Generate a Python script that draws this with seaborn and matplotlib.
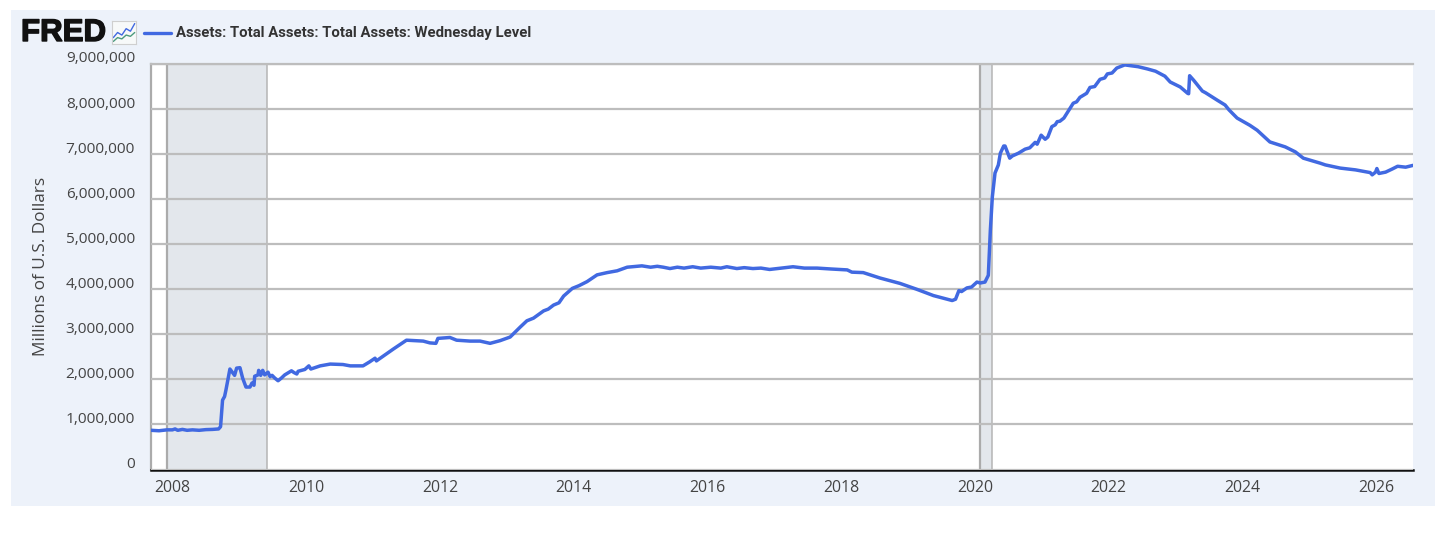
import numpy as np
import pandas as pd
import matplotlib
matplotlib.use('Agg')
import matplotlib.pyplot as plt
import matplotlib.patheffects as pe
import matplotlib.transforms as mtrans
import seaborn as sns

# Values (year as decimal, assets in trillions of dollars)
years = [2007.68, 2007.80, 2007.92, 2008.00, 2008.04, 2008.08, 2008.15, 2008.22, 2008.30, 2008.40, 2008.50, 2008.60, 2008.69,
         2008.72, 2008.75, 2008.78, 2008.80, 2008.86, 2008.93, 2008.96, 2009.01, 2009.05, 2009.10, 2009.16,
         2009.19, 2009.22, 2009.23, 2009.28, 2009.29, 2009.32, 2009.35, 2009.38, 2009.43, 2009.46, 2009.49, 2009.53,
         2009.58, 2009.63, 2009.68, 2009.78, 2009.82, 2009.86, 2009.88, 2009.98, 2010.04, 2010.07, 2010.21,
         2010.36, 2010.55, 2010.66, 2010.85, 2010.95, 2011.03, 2011.05, 2011.30, 2011.50, 2011.75,
         2011.85, 2011.94, 2011.97, 2012.15, 2012.25, 2012.45, 2012.60, 2012.75, 2012.90, 2013.05,
         2013.20, 2013.30, 2013.40, 2013.55, 2013.62, 2013.70, 2013.78, 2013.85, 2013.98, 2014.08, 2014.20, 2014.35, 2014.50, 2014.65, 2014.80,
         2015.02, 2015.15, 2015.25, 2015.34, 2015.44, 2015.55, 2015.65, 2015.78, 2015.90, 2016.05, 2016.20,
         2016.29, 2016.44, 2016.55, 2016.68, 2016.80, 2016.93, 2017.10, 2017.28, 2017.45, 2017.64, 2017.85, 2018.09,
         2018.16, 2018.33, 2018.58, 2018.88, 2019.13, 2019.38, 2019.66, 2019.71, 2019.76, 2019.80, 2019.88, 2019.95,
         2020.03, 2020.08, 2020.15, 2020.20, 2020.23, 2020.26, 2020.30, 2020.35, 2020.38, 2020.43, 2020.45,
         2020.52, 2020.56, 2020.65, 2020.75, 2020.82, 2020.90, 2020.93, 2020.99, 2021.05, 2021.09, 2021.15, 2021.20,
         2021.23, 2021.27, 2021.33, 2021.39, 2021.47, 2021.52, 2021.57, 2021.67, 2021.72, 2021.79, 2021.87, 2021.94,
         2021.98, 2022.05, 2022.12, 2022.24, 2022.44, 2022.58, 2022.70, 2022.84, 2022.92, 2023.07, 2023.18, 2023.195, 2023.21, 2023.27,
         2023.40, 2023.45, 2023.62, 2023.74, 2023.80, 2023.92, 2024.11, 2024.22, 2024.41, 2024.64, 2024.79,
         2024.91, 2025.00, 2025.16, 2025.24, 2025.46, 2025.69, 2025.91, 2025.94, 2025.99, 2026.01, 2026.04,
         2026.14, 2026.24, 2026.32, 2026.44, 2026.55]
assets_tn = [0.87, 0.86, 0.88, 0.88, 0.90, 0.87, 0.89, 0.87, 0.88, 0.87, 0.885, 0.89, 0.90,
             0.95, 1.54, 1.62, 1.76, 2.23, 2.09, 2.25, 2.26, 2.03, 1.83, 1.83,
             1.92, 1.87, 2.07, 2.10, 2.20, 2.09, 2.20, 2.10, 2.16, 2.06, 2.09, 2.03,
             1.97, 2.03, 2.10, 2.19, 2.15, 2.12, 2.18, 2.22, 2.30, 2.23, 2.30,
             2.34, 2.33, 2.30, 2.30, 2.39, 2.47, 2.41, 2.67, 2.87, 2.85,
             2.81, 2.80, 2.91, 2.93, 2.87, 2.85, 2.85, 2.80, 2.86, 2.94,
             3.16, 3.30, 3.36, 3.52, 3.56, 3.65, 3.70, 3.85, 4.02, 4.08, 4.17, 4.32, 4.37, 4.41, 4.49,
             4.52, 4.49, 4.51, 4.49, 4.46, 4.49, 4.47, 4.50, 4.47, 4.49, 4.47,
             4.50, 4.46, 4.48, 4.46, 4.47, 4.44, 4.47, 4.50, 4.47, 4.47, 4.45, 4.43,
             4.38, 4.37, 4.25, 4.13, 4.00, 3.86, 3.75, 3.78, 3.97, 3.95, 4.03, 4.05,
             4.16, 4.14, 4.16, 4.31, 5.30, 6.05, 6.58, 6.76, 7.02, 7.18, 7.18,
             6.91, 6.96, 7.02, 7.11, 7.14, 7.26, 7.22, 7.42, 7.33, 7.38, 7.61, 7.65,
             7.72, 7.73, 7.80, 7.94, 8.13, 8.16, 8.26, 8.35, 8.48, 8.50, 8.66, 8.69,
             8.78, 8.80, 8.91, 8.98, 8.94, 8.89, 8.84, 8.73, 8.60, 8.49, 8.35, 8.34, 8.74, 8.64,
             8.40, 8.36, 8.20, 8.09, 7.98, 7.80, 7.64, 7.53, 7.27, 7.16, 7.05,
             6.91, 6.87, 6.80, 6.76, 6.69, 6.65, 6.59, 6.54, 6.60, 6.68, 6.57,
             6.60, 6.67, 6.73, 6.71, 6.75]

recessions = [(2007.92, 2009.42), (2020.08, 2020.25)]
year_ticks = list(range(2008, 2028, 2))
value_ticks = list(range(0, 10000000, 1000000))
legend_name = 'Assets: Total Assets: Total Assets: Wednesday Level'

W, H = 1456, 535
LINE = '#4169E1'
PANEL = '#EDF2FA'
GRID = '#BDBDBD'
TEXT = '#444444'

sns.set_theme(style='white')
plt.rcParams['font.family'] = ['Open Sans', 'DejaVu Sans']

df = pd.DataFrame({'year': years, 'assets': np.array(assets_tn) * 1e6})

fig = plt.figure(figsize=(W / 100, H / 100), dpi=100, facecolor='white')

# light blue panel behind everything
fig.patches.append(plt.Rectangle((11 / W, 1 - 506 / H), (1435 - 11) / W, (506 - 10) / H,
                                 transform=fig.transFigure, facecolor=PANEL, edgecolor='none', zorder=-5))

ax = fig.add_axes([151 / W, 1 - 469.5 / H, (1413 - 151) / W, (469.5 - 64) / H])
ax.set_facecolor('white')

for start, end in recessions:
    ax.axvspan(start, end, facecolor='#E3E7EC', edgecolor='none', zorder=0)
    ax.axvline(start, color='#ABABAB', lw=1.6, zorder=1.5)
    ax.axvline(end, color='#B5B5B5', lw=1.1, zorder=1.5)

sns.lineplot(data=df, x='year', y='assets', color=LINE, linewidth=2.5, ax=ax, zorder=3, clip_on=True)

ax.set_xlim(2007.68, 2026.55)
ax.set_ylim(0, 9000000)
ax.set_xticks(year_ticks[:-1] if year_ticks[-1] > 2026.55 else year_ticks)
ax.set_yticks(value_ticks)
ax.set_yticklabels([f'{v:,}' for v in value_ticks])
ax.yaxis.grid(True, color=GRID, lw=1.6, zorder=1)
ax.set_axisbelow(False)
for line in ax.get_ygridlines():
    line.set_zorder(2)
ax.xaxis.grid(False)

ax.set_xlabel('')
ax.set_ylabel('Millions of U.S. Dollars', fontsize=12.4, color=TEXT, labelpad=0)
ax.yaxis.set_label_coords(-(151 - 49) / (1413 - 151), 0.5)

ax.tick_params(axis='y', length=0, pad=11.5, labelsize=11.1, labelcolor=TEXT)
ax.tick_params(axis='x', length=7, width=0.8, color='#CCD6EB', pad=0.5, labelsize=11.4, labelcolor=TEXT)

# FRED puts the y labels just above their gridlines
shift = mtrans.ScaledTranslation(0, 7 / 100, fig.dpi_scale_trans)
for lab in ax.get_yticklabels():
    lab.set_transform(lab.get_transform() + shift)

ax.spines['right'].set_visible(False)
ax.spines['top'].set_color(GRID)
ax.spines['top'].set_linewidth(1.6)
ax.spines['left'].set_color('#ABABAB')
ax.spines['left'].set_linewidth(1.6)
ax.spines['bottom'].set_color('#111111')
ax.spines['bottom'].set_linewidth(1.8)

# header: logo, icon and legend
logo = fig.text(21 / W, 1 - 33 / H, 'FRED', fontsize=22.5, fontweight='bold', color='#111111',
                family=['Liberation Sans', 'DejaVu Sans'], va='center', ha='left')
logo.set_path_effects([pe.withStroke(linewidth=1.0, foreground='#111111')])

icon = fig.add_axes([112 / W, 1 - 44 / H, 24 / W, 23 / H])
icon.set_facecolor('#F7F9F9')
for s in icon.spines.values():
    s.set_color('#CFCFCF')
    s.set_linewidth(0.8)
icon.set_xticks([])
icon.set_yticks([])
icon.plot([0, 1, 2, 3, 4, 5], [2.5, 4.5, 3.5, 6, 5, 8], color=LINE, lw=1)
icon.plot([0, 1, 2, 3, 4, 5], [1, 2.5, 2, 3.5, 3, 4.5], color='#4C9A7E', lw=1)
icon.set_xlim(-0.3, 5.3)
icon.set_ylim(0, 9)

fig.add_artist(plt.Line2D([144 / W, 171 / W], [1 - 33 / H, 1 - 33 / H], color=LINE, lw=2.4))
fig.text(176 / W, 1 - 32.5 / H, legend_name, fontsize=10.75, fontweight='semibold', color='#333333',
         family=['Roboto', 'DejaVu Sans'], va='center', ha='left')

fig.savefig('out.png', dpi=100, facecolor='white')
